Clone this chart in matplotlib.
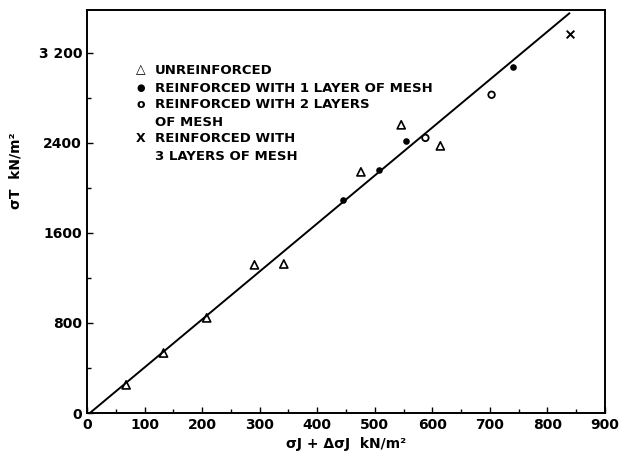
import matplotlib.pyplot as plt
import numpy as np

# unreinforced (triangles)
x_unr = [68, 133, 208, 291, 342, 476, 546, 614]
y_unr = [250, 533, 845, 1316, 1324, 2142, 2560, 2373]
# reinforced with 1 layer of mesh (filled dots)
x_one = [445, 508, 555, 740]
y_one = [1893, 2160, 2418, 3076]
# reinforced with 2 layers of mesh (open circles)
x_two = [588, 703]
y_two = [2444, 2827]
# reinforced with 3 layers of mesh (x)
x_three = [839]
y_three = [3369]
# fitted line
line_x = [5, 838]
line_y = [0, 3550]

plt.rcParams['font.family'] = 'DejaVu Sans'
plt.rcParams['font.weight'] = 'bold'

fig = plt.figure(figsize=(6.28, 4.67), dpi=100)
ax = fig.add_axes([0.1385, 0.1156, 0.8248, 0.863])

ax.plot(line_x, line_y, color='black', lw=1.4)
ax.scatter(x_unr, y_unr, marker='^', s=34, facecolors='none', edgecolors='black', linewidths=1.2)
ax.scatter(x_one, y_one, marker='o', s=14, color='black')
ax.scatter(x_two, y_two, marker='o', s=22, facecolors='none', edgecolors='black', linewidths=1.3)
ax.scatter(x_three, y_three, marker='x', s=30, color='black', linewidths=1.4)

ax.set_xlim(0, 900)
ax.set_ylim(0, 3580)
ax.set_xticks(np.arange(0, 901, 100))
ax.set_xticks(np.arange(50, 900, 50), minor=True)
ax.set_yticks([0, 800, 1600, 2400, 3200])
ax.set_yticks(np.arange(400, 3580, 400), minor=True)
ax.set_yticklabels(['0', '800', '1600', '2400', '3 200'])
ax.tick_params(direction='in', length=4, width=1, labelsize=10)
ax.tick_params(which='minor', direction='in', length=3, width=1)
for s in ax.spines.values():
    s.set_linewidth(1.4)

ax.set_xlabel('σJ + ΔσJ  kN/m²', fontsize=10, fontweight='bold')
ax.set_ylabel('σT  kN/m²', fontsize=10, fontweight='bold')
ax.yaxis.set_label_coords(-0.125, 0.6)

# hand-drawn legend
leg = [
    (141, 70, '△', 'UNREINFORCED'),
    (141, 88, '●', 'REINFORCED WITH 1 LAYER OF MESH'),
    (141, 105, 'o', 'REINFORCED WITH 2 LAYERS'),
    (141, 122, '', 'OF MESH'),
    (141, 139, 'X', 'REINFORCED WITH'),
    (141, 157, '', '3 LAYERS OF MESH'),
]
for px, py, sym, txt in leg:
    if sym:
        fig.text(px / 628, 1 - py / 467, sym, fontsize=7 if sym == '●' else 9,
                 ha='center', va='center', fontweight='bold')
    fig.text((px + 14) / 628, 1 - py / 467, txt, fontsize=9.5,
             ha='left', va='center', fontweight='bold')

fig.savefig('out.png', dpi=100)
